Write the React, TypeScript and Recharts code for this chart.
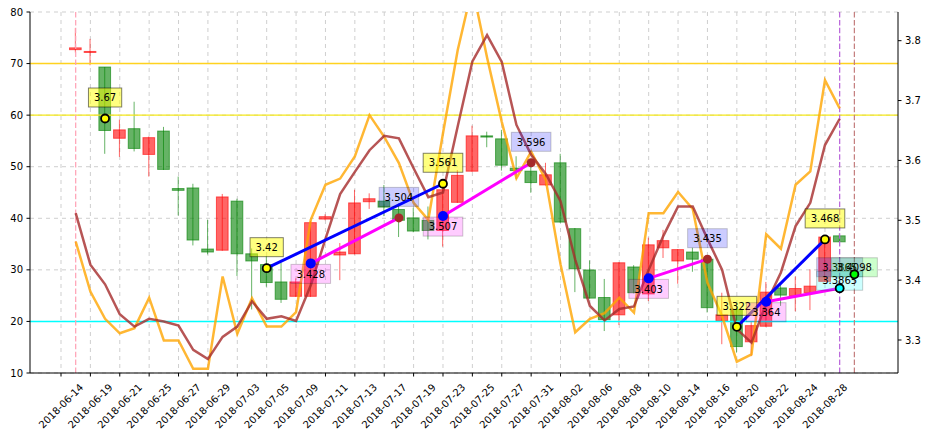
import React from 'react';
import {
  ComposedChart,
  Line,
  Bar,
  Scatter,
  XAxis,
  YAxis,
  CartesianGrid,
  ReferenceLine,
} from 'recharts';

const FONT = 'DejaVu Sans, sans-serif';

// x tick labels (one per tick, ticks at every 2nd candle starting at -1)
const tickLabels = [
  '2018-06-14', '2018-06-19', '2018-06-21', '2018-06-25', '2018-06-27', '2018-06-29',
  '2018-07-03', '2018-07-05', '2018-07-09', '2018-07-11', '2018-07-13', '2018-07-17',
  '2018-07-19', '2018-07-23', '2018-07-25', '2018-07-27', '2018-07-31', '2018-08-02',
  '2018-08-06', '2018-08-08', '2018-08-10', '2018-08-14', '2018-08-16', '2018-08-20',
  '2018-08-22', '2018-08-24', '2018-08-28',
];

// candles (right axis)
const opens = [
  3.788, 3.782, 3.650, 3.651, 3.620, 3.638, 3.585, 3.550, 3.467, 3.447,
  3.539, 3.444, 3.432, 3.396, 3.368, 3.397, 3.496, 3.506, 3.447, 3.529,
  3.536, 3.522, 3.500, 3.482, 3.483, 3.551, 3.575, 3.641, 3.639, 3.592,
  3.583, 3.563, 3.576, 3.497, 3.419, 3.370, 3.334, 3.429, 3.379, 3.459,
  3.466, 3.451, 3.435, 3.354, 3.342, 3.289, 3.324, 3.380, 3.375, 3.386,
  3.390, 3.472, 3.464,
];
const highs = [
  3.821, 3.803, 3.756, 3.668, 3.698, 3.640, 3.656, 3.573, 3.561, 3.501,
  3.544, 3.536, 3.453, 3.440, 3.429, 3.403, 3.499, 3.510, 3.462, 3.551,
  3.545, 3.559, 3.528, 3.521, 3.523, 3.553, 3.584, 3.658, 3.648, 3.651,
  3.607, 3.597, 3.596, 3.611, 3.487, 3.433, 3.402, 3.430, 3.425, 3.471,
  3.484, 3.452, 3.454, 3.436, 3.379, 3.358, 3.330, 3.397, 3.393, 3.406,
  3.418, 3.475, 3.478,
];
const lows = [
  3.780, 3.759, 3.611, 3.606, 3.615, 3.573, 3.584, 3.508, 3.458, 3.443,
  3.449, 3.407, 3.351, 3.389, 3.362, 3.372, 3.372, 3.500, 3.400, 3.443,
  3.519, 3.507, 3.472, 3.480, 3.468, 3.456, 3.529, 3.581, 3.622, 3.583,
  3.569, 3.546, 3.558, 3.496, 3.380, 3.369, 3.315, 3.325, 3.378, 3.365,
  3.437, 3.394, 3.414, 3.346, 3.293, 3.279, 3.273, 3.322, 3.357, 3.348,
  3.350, 3.397, 3.463,
];
const closes = [
  3.785, 3.7805, 3.756, 3.637, 3.653, 3.610, 3.649, 3.553, 3.554, 3.452,
  3.450, 3.532, 3.444, 3.426, 3.397, 3.373, 3.373, 3.502, 3.442, 3.444,
  3.531, 3.532, 3.518, 3.504, 3.500, 3.483, 3.530, 3.582, 3.641, 3.636,
  3.587, 3.582, 3.559, 3.596, 3.486, 3.417, 3.371, 3.342, 3.422, 3.377,
  3.454, 3.432, 3.447, 3.435, 3.332, 3.351, 3.297, 3.323, 3.387, 3.374,
  3.379, 3.398, 3.474,
];

// oscillator lines (left axis)
const kValues = [
  35.5, 25.8, 20.5, 17.7, 18.7, 24.6, 16.3, 16.3, 10.8, 10.8,
  28.7, 17.6, 24.5, 19.0, 19.0, 21.8, 39.7, 46.5, 47.7, 52.0,
  60.0, 55.8, 50.7, 43.0, 39.7, 56.5, 72.6, 84.8, 71.2, 58.7,
  47.8, 52.9, 47.4, 31.1, 17.9, 20.5, 21.6, 24.6, 21.7, 41.0,
  41.0, 45.1, 41.8, 27.5, 21.0, 12.2, 13.6, 36.9, 34.1, 46.5,
  49.1, 66.8, 61.3,
];
const dValues = [
  41.0, 31.0, 27.2, 21.4, 19.0, 20.5, 20.0, 19.2, 14.5, 12.7,
  17.0, 19.0, 23.9, 20.5, 21.0, 20.1, 27.0, 36.0, 44.7, 49.0,
  53.2, 56.0, 55.5, 49.7, 44.1, 45.0, 57.8, 70.4, 75.5, 70.3,
  58.1, 52.3, 48.6, 43.3, 32.0, 23.0, 20.2, 22.4, 22.9, 30.0,
  36.6, 42.3, 42.3, 36.0, 30.0, 18.5, 15.9, 23.5, 29.5, 38.5,
  43.0, 54.2, 59.3,
];

// annotated points: [candle index, price]
const yellowPts: [number, number][] = [[2, 3.67], [13, 3.42], [25, 3.561], [45, 3.322], [51, 3.468]];
const blueStartPts: [number, number][] = [[16, 3.428], [25, 3.507], [39, 3.403], [47, 3.364]];
const brownEndPts: [number, number][] = [[22, 3.504], [31, 3.596], [43, 3.435], [52, 3.3865]];
const cyanPts: [number, number][] = [[52, 3.3865]];
const greenPts: [number, number][] = [[53, 3.4098]];

// blue segments link yellow points (by position in yellowPts)
const blueLinks: [number, number][] = [[1, 2], [3, 4]];

const leftTicks = [10, 20, 30, 40, 50, 60, 70, 80];
const rightTicks = [3.3, 3.4, 3.5, 3.6, 3.7, 3.8];

// ---------- build the table ----------
const N = 54;
const rows: any[] = Array.from({ length: N }, (_, i) => {
  const r: any = { x: i };
  if (i < opens.length) {
    r.open = opens[i];
    r.high = highs[i];
    r.low = lows[i];
    r.close = closes[i];
    r.range = [lows[i], highs[i]];
    r.k = kValues[i];
    r.d = dValues[i];
  }
  return r;
});

const segments: { key: string; color: string }[] = [];
blueLinks.forEach(([a, b], j) => {
  const key = `blue${j}`;
  rows[yellowPts[a][0]][key] = yellowPts[a][1];
  rows[yellowPts[b][0]][key] = yellowPts[b][1];
  segments.push({ key, color: '#0000ff' });
});
blueStartPts.forEach((p, j) => {
  const q = brownEndPts[j];
  const key = `mag${j}`;
  rows[p[0]][key] = p[1];
  rows[q[0]][key] = q[1];
  segments.push({ key, color: '#ff00ff' });
});

const toScatter = (pts: [number, number][]) => pts.map(([i, v]) => ({ x: i, v }));

const xTicks = tickLabels.map((_, i) => 2 * i - 1);

// ---------- shapes ----------
const textWidth = (s: string) => {
  let w = 0;
  for (const ch of s) w += ch === '.' ? 3.18 : 6.36;
  return w;
};

const LabelBox = ({ cx, cy, text, fill, alpha }: any) => {
  const w = textWidth(text) + 11;
  const h = 19;
  return (
    <g>
      <rect
        x={cx - w / 2}
        y={cy - h / 2}
        width={w}
        height={h}
        fill={fill}
        fillOpacity={alpha}
        stroke="#000"
        strokeOpacity={alpha}
        strokeWidth={1}
      />
      <text x={cx} y={cy + 3.7} textAnchor="middle" fontSize={10} fontFamily={FONT} fill="#000">
        {text}
      </text>
    </g>
  );
};

const makePointShape = (opts: {
  dotFill: string;
  dotStroke?: string;
  r: number;
  boxFill: string;
  boxAlpha: number;
  dy: number;
  showDot?: boolean;
}) =>
  (props: any) => {
    const { cx, cy, payload } = props;
    if (cx == null || cy == null || !payload) return null;
    const txt = String(payload.v);
    return (
      <g>
        <LabelBox cx={cx} cy={cy + opts.dy} text={txt} fill={opts.boxFill} alpha={opts.boxAlpha} />
        {opts.showDot !== false && (
          <circle
            cx={cx}
            cy={cy}
            r={opts.r}
            fill={opts.dotFill}
            stroke={opts.dotStroke || 'none'}
            strokeWidth={opts.dotStroke ? 1.8 : 0}
          />
        )}
      </g>
    );
  };

const YellowShape = makePointShape({ dotFill: '#ffff00', dotStroke: '#000', r: 4, boxFill: '#ffff00', boxAlpha: 0.5, dy: -21 });
const BlueShape = makePointShape({ dotFill: '#0000ff', r: 5, boxFill: '#ff00ff', boxAlpha: 0.2, dy: 10.5 });
const BrownShape = makePointShape({ dotFill: '#a52a2a', r: 4.5, boxFill: '#0000ff', boxAlpha: 0.2, dy: -21 });
const CyanShape = makePointShape({ dotFill: '#00ffff', dotStroke: '#000', r: 4, boxFill: '#00ffff', boxAlpha: 0.2, dy: -7.5 });
const GreenShape = makePointShape({ dotFill: '#00ff00', dotStroke: '#000', r: 4, boxFill: '#00ff00', boxAlpha: 0.2, dy: -7 });

const Candle = (props: any) => {
  const { x, y, width, height, payload } = props;
  if (!payload || payload.open == null || height == null) return null;
  const { open, close, high, low } = payload;
  const top = Math.min(y, y + height);
  const span = Math.abs(height);
  const ppu = span / (high - low);
  const yOf = (v: number) => top + (high - v) * ppu;
  const cx = x + width / 2;
  const up = close >= open;
  const col = up ? '#008000' : '#ff0000';
  const bTop = yOf(Math.max(open, close));
  const bBot = yOf(Math.min(open, close));
  const bw = 11.7;
  return (
    <g>
      <line x1={cx} x2={cx} y1={yOf(high)} y2={yOf(low)} stroke={col} strokeOpacity={0.6} strokeWidth={1} />
      <rect
        x={cx - bw / 2}
        y={bTop}
        width={bw}
        height={Math.max(bBot - bTop, 1)}
        fill={col}
        fillOpacity={0.6}
        stroke={col}
        strokeOpacity={0.6}
        strokeWidth={1}
      />
    </g>
  );
};

const XTick = (props: any) => {
  const { x, y, payload } = props;
  const idx = Math.round((payload.value + 1) / 2);
  const label = tickLabels[idx];
  if (!label) return null;
  const ax = x + 23;
  const ay = y + 9.5;
  return (
    <text
      x={ax}
      y={ay}
      transform={`rotate(-45 ${ax} ${ay})`}
      textAnchor="end"
      fontSize={10}
      fontFamily={FONT}
      fill="#000"
    >
      {label}
    </text>
  );
};

const X_DOMAIN: [number, number] = [-3.11, 55.97];

export default function App() {
  return (
    <div style={{ position: 'absolute', left: 0, top: 0, width: 931, height: 442, background: '#fff' }}>
      <ComposedChart width={931} height={442} data={rows} margin={{ top: 12, right: 0, bottom: 0, left: 0 }}>
        <CartesianGrid
          yAxisId="left"
          stroke="#cfcfcf"
          strokeDasharray="4 4"
          horizontalValues={leftTicks}
          verticalValues={xTicks}
        />
        <XAxis
          dataKey="x"
          type="number"
          domain={X_DOMAIN}
          allowDataOverflow
          ticks={xTicks}
          interval={0}
          height={69}
          tickSize={3.5}
          tick={<XTick />}
          tickLine={{ stroke: '#000' }}
          axisLine={{ stroke: '#000' }}
        />
        <XAxis
          xAxisId="top"
          orientation="top"
          dataKey="x"
          type="number"
          domain={X_DOMAIN}
          allowDataOverflow
          height={0}
          tick={false}
          tickLine={false}
          axisLine={{ stroke: '#000' }}
        />
        <YAxis
          yAxisId="left"
          type="number"
          domain={[10, 80]}
          allowDataOverflow
          ticks={leftTicks}
          interval={0}
          width={30}
          tickSize={3.5}
          tickMargin={3.5}
          tick={{ fill: '#000', fontSize: 10, fontFamily: FONT }}
          tickLine={{ stroke: '#000' }}
          axisLine={{ stroke: '#000' }}
        />
        <YAxis
          yAxisId="right"
          orientation="right"
          type="number"
          domain={[3.2449, 3.8479]}
          allowDataOverflow
          ticks={rightTicks}
          interval={0}
          width={33}
          tickSize={3.5}
          tickMargin={3.5}
          tickFormatter={(v: number) => v.toFixed(1)}
          tick={{ fill: '#000', fontSize: 10, fontFamily: FONT }}
          tickLine={{ stroke: '#000' }}
          axisLine={{ stroke: '#000' }}
        />

        <ReferenceLine yAxisId="left" y={70} stroke="#ffd21f" strokeWidth={1.4} />
        <ReferenceLine yAxisId="left" y={60} stroke="#f5e81a" strokeWidth={1.4} />
        <ReferenceLine yAxisId="left" y={20} stroke="#00ffff" strokeWidth={1.4} />
        <ReferenceLine yAxisId="left" x={0} stroke="#ffa0b4" strokeWidth={1.2} strokeDasharray="5.5 2.4" />
        <ReferenceLine yAxisId="left" x={52} stroke="#b861d9" strokeWidth={1.2} strokeDasharray="5.5 2.4" />
        <ReferenceLine yAxisId="left" x={53} stroke="#c47c7c" strokeWidth={1.2} strokeDasharray="5.5 2.4" />

        <Bar yAxisId="right" dataKey="range" barSize={12} shape={Candle} isAnimationActive={false} />

        <Line
          yAxisId="left"
          dataKey="k"
          stroke="#ffa500"
          strokeOpacity={0.8}
          strokeWidth={2.5}
          dot={false}
          activeDot={false}
          isAnimationActive={false}
        />
        <Line
          yAxisId="left"
          dataKey="d"
          stroke="#a52a2a"
          strokeOpacity={0.8}
          strokeWidth={2.5}
          dot={false}
          activeDot={false}
          isAnimationActive={false}
        />

        {segments.map((s) => (
          <Line
            key={s.key}
            yAxisId="right"
            dataKey={s.key}
            stroke={s.color}
            strokeWidth={3}
            connectNulls
            dot={false}
            activeDot={false}
            isAnimationActive={false}
          />
        ))}

        <Scatter yAxisId="right" data={toScatter(yellowPts)} dataKey="v" shape={YellowShape} isAnimationActive={false} />
        <Scatter yAxisId="right" data={toScatter(blueStartPts)} dataKey="v" shape={BlueShape} isAnimationActive={false} />
        <Scatter yAxisId="right" data={toScatter(brownEndPts)} dataKey="v" shape={BrownShape} isAnimationActive={false} />
        <Scatter yAxisId="right" data={toScatter(cyanPts)} dataKey="v" shape={CyanShape} isAnimationActive={false} />
        <Scatter yAxisId="right" data={toScatter(greenPts)} dataKey="v" shape={GreenShape} isAnimationActive={false} />
      </ComposedChart>
    </div>
  );
}
